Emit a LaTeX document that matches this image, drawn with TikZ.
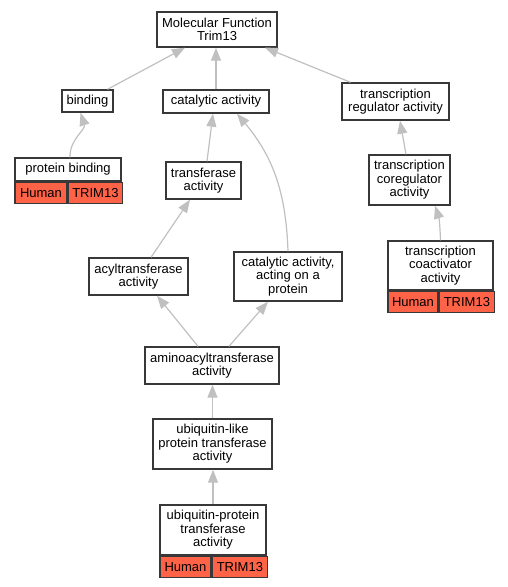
\documentclass[tikz,border=0pt]{standalone}
\usepackage{fontspec}
\setmainfont{Liberation Sans}
\usepackage{tikz}
\usetikzlibrary{arrows.meta, positioning, calc}
\definecolor{termFg}{RGB}{56, 56, 56}
\definecolor{edgeGray}{RGB}{192, 192, 192}
\definecolor{geneBg}{RGB}{255, 99, 71}
\tikzstyle{edge} = [draw=edgeGray, line width=1.2pt, -{Triangle[length=13pt, width=10pt]}]
\tikzstyle{term} = [rectangle, inner sep=0pt, align=center, draw=termFg, line width=1.4pt, fill=white, text=black, font=\fontsize{13}{13.5}\selectfont]
\tikzstyle{gene} = [term, fill=geneBg, anchor=north west, minimum height=21pt]

\begin{document}
\begin{tikzpicture}[x=1pt, y=-1pt]
\useasboundingbox (0,0) rectangle (508,587);

\node (mf) [term, minimum width=120pt, minimum height=35pt] at (217,29.5) {Molecular Function\\Trim13};

\node (binding) [term, minimum width=51pt, minimum height=22pt] at (87.5,101) {binding};
\node (catalytic) [term, minimum width=106pt, minimum height=23pt] at (216,101.5) {catalytic activity};
\node (regulator) [term, minimum width=107pt, minimum height=37pt] at (395.5,101.5) {transcription\\regulator activity};

\node (protbind) [term, minimum width=106pt, minimum height=23pt] at (68,169.5) {protein binding};
\node (protbindH) [gene, minimum width=52pt] at (protbind.south west) {Human};
\node (protbindT) [gene, minimum width=54pt] at (protbindH.north east) {TRIM13};

\node (transferase) [term, minimum width=75pt, minimum height=37pt] at (203.5,180.5) {transferase\\activity};
\node (coregulator) [term, minimum width=81pt, minimum height=50pt] at (409.5,180) {transcription\\coregulator\\activity};

\node (acyl) [term, minimum width=99pt, minimum height=37pt] at (138.5,276.5) {acyltransferase\\activity};
\node (onprotein) [term, minimum width=108pt, minimum height=49pt] at (288,276.5) {catalytic activity,\\acting on a\\protein};

\node (coactivator) [term, minimum width=105pt, minimum height=49pt] at (440.5,265.5) {transcription\\coactivator\\activity};
\node (coactivatorH) [gene, minimum width=50pt] at (coactivator.south west) {Human};
\node (coactivatorT) [gene, minimum width=55pt] at (coactivatorH.north east) {TRIM13};

\node (aminoacyl) [term, minimum width=134pt, minimum height=37pt] at (212,365.5) {aminoacyltransferase\\activity};
\node (ublike) [term, minimum width=119pt, minimum height=50pt] at (212.5,444) {ubiquitin-like\\protein transferase\\activity};

\node (ubprot) [term, minimum width=106pt, minimum height=50pt] at (213,530) {ubiquitin-protein\\transferase\\activity};
\node (ubprotH) [gene, minimum width=51pt] at (ubprot.south west) {Human};
\node (ubprotT) [gene, minimum width=55pt] at (ubprotH.north east) {TRIM13};

\draw [edge] ($(binding.north)+(20,0)$) -- ($(mf.south)+(-32,0)$);
\draw [edge] (catalytic.north) -- (catalytic.north |- mf.south);
\draw [edge] ($(regulator.north)+(-45,0)$) -- ($(mf.south)+(48,0)$);

\draw [edge] ($(protbind.north)+(2,0)$) to[out=92, in=-72] ($(binding.south)+(-7,0)$);
\draw [edge] ($(transferase.north)+(3.5,0)$) -- ($(catalytic.south)+(-3,0)$);
\draw [edge] (onprotein.north) to[out=92, in=-50] ($(catalytic.south)+(21,0)$);

\draw [edge] ($(coregulator.north)+(-3.5,0)$) -- ($(regulator.south)+(4.5,0)$);
\draw [edge] (coactivator.north) to[out=92, in=-72] ($(coregulator.south)+(25.5,0)$);

\draw [edge] ($(acyl.north)+(12.5,0)$) -- ($(transferase.south)+(-13.5,0)$);
\draw [edge] ($(aminoacyl.north)+(-14,0)$) -- ($(acyl.south)+(18.5,0)$);
\draw [edge] ($(aminoacyl.north)+(17,0)$) -- ($(onprotein.south)+(-20,0)$);

\draw [edge] (ublike.north) -- (ublike.north |- aminoacyl.south);
\draw [edge] (ubprot.north) -- (ubprot.north |- ublike.south);

\end{tikzpicture}
\end{document}
